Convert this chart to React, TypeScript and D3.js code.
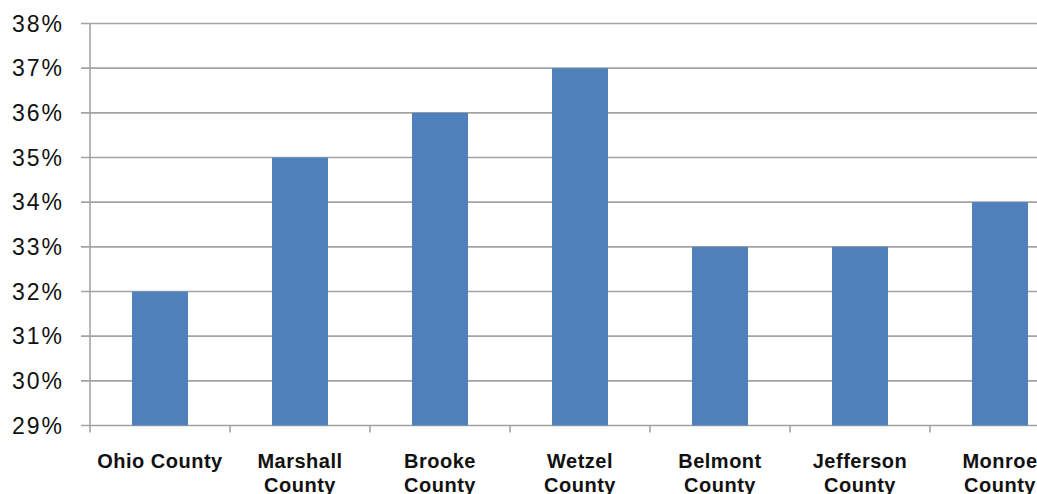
import React from "react";
import * as d3 from "d3";

const categories = [
  "Ohio County",
  "Marshall County",
  "Brooke County",
  "Wetzel County",
  "Belmont County",
  "Jefferson County",
  "Monroe County",
];
const values = [0.32, 0.35, 0.36, 0.37, 0.33, 0.33, 0.34];
const yTicks = [0.29, 0.3, 0.31, 0.32, 0.33, 0.34, 0.35, 0.36, 0.37, 0.38];

const W = 1037;
const H = 494;
const plotLeft = 90;
const plotRight = 1070;
const plotTop = 23.5;
const plotBottom = 425.5;

function wrapLabel(s: string): string[] {
  return s.length > 11 ? s.split(" ") : [s];
}

export default function App() {
  const x = d3
    .scaleBand<string>()
    .domain(categories)
    .range([plotLeft, plotRight])
    .paddingInner(0.6)
    .paddingOuter(0.3);
  const y = d3.scaleLinear().domain([0.29, 0.38]).range([plotBottom, plotTop]);
  const fmt = d3.format(".0%");
  const step = x.step();
  const boundaries = d3.range(categories.length + 1).map((i) => plotLeft + i * step);

  return (
    <div style={{ position: "absolute", left: 0, top: 0 }}>
      <svg width={W} height={H} style={{ display: "block", background: "#fff" }}>
        {/* horizontal gridlines */}
        {yTicks.map((t) => (
          <line
            key={"g" + t}
            x1={plotLeft - 9}
            x2={W}
            y1={y(t)}
            y2={y(t)}
            stroke="#a3a3a3"
            strokeWidth={1.6}
          />
        ))}
        {/* bars */}
        {categories.map((c, i) => (
          <rect
            key={c}
            x={x(c)}
            y={y(values[i])}
            width={x.bandwidth()}
            height={plotBottom - y(values[i])}
            fill="#4f81bd"
          />
        ))}
        {/* value axis line */}
        <line
          x1={plotLeft}
          x2={plotLeft}
          y1={plotTop}
          y2={plotBottom}
          stroke="#a3a3a3"
          strokeWidth={1.6}
        />
        {/* category tick marks */}
        {boundaries.map((bx, i) => (
          <line
            key={"t" + i}
            x1={bx}
            x2={bx}
            y1={plotBottom}
            y2={plotBottom + 7}
            stroke="#a3a3a3"
            strokeWidth={1.6}
          />
        ))}
        {/* y tick labels */}
        {yTicks.map((t) => (
          <text
            key={"l" + t}
            x={64}
            y={y(t)}
            dy="0.36em"
            textAnchor="end"
            fontFamily="'Liberation Sans', Arial, sans-serif"
            fontSize={23}
            fill="#111"
            style={{ letterSpacing: "2px" }}
          >
            {fmt(t)}
          </text>
        ))}
        {/* category labels */}
        {categories.map((c) => {
          const lines = wrapLabel(c);
          const cx = (x(c) as number) + x.bandwidth() / 2;
          return (
            <text
              key={"c" + c}
              x={cx}
              y={468}
              textAnchor="middle"
              fontFamily="'Liberation Sans', Arial, sans-serif"
              fontWeight="bold"
              fontSize={20}
              fill="#111"
              style={{ letterSpacing: "0.5px" }}
            >
              {lines.map((ln, j) => (
                <tspan key={j} x={cx} dy={j === 0 ? 0 : 24}>
                  {ln}
                </tspan>
              ))}
            </text>
          );
        })}
      </svg>
    </div>
  );
}
